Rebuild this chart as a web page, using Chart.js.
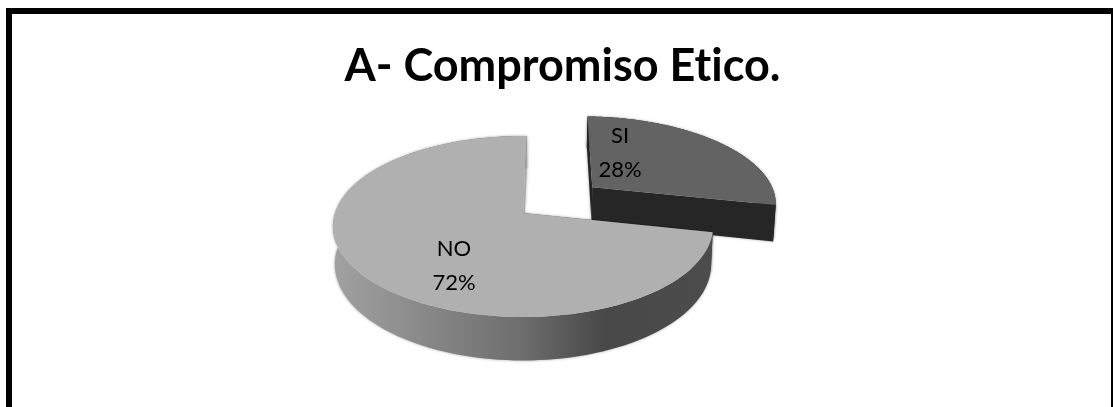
<!DOCTYPE html>
<html>
<head>
<meta charset="utf-8">
<title>A- Compromiso Etico.</title>
<script src="https://cdn.jsdelivr.net/npm/chart.js@4"></script>
<style>
  html, body { margin: 0; padding: 0; background: #fff; overflow: hidden; }
  #frame { position: absolute; left: 6px; top: 8px; width: 1099px; height: 500px; border: 6px solid #000; }
  #pieChart { position: absolute; left: 0; top: 0; }
</style>
</head>
<body>
<div id="frame"></div>
<canvas id="pieChart" width="1113" height="407"></canvas>
<script>
const categories = ['SI', 'NO'];
const percentages = [28, 72];
const titleText = 'A- Compromiso Etico.';

// tilted view of the pie plane
const view = { x: 523, y: 213, a: 188, b: 88.5, k: 0.149, depth: 37, lowerScale: 0.99 };
const explode = [0.49, 0];
const topColors = ['#636363', '#b0b0b0'];
const labelSpots = [{ x: 620, y: 153 }, { x: 454, y: 266 }];

// u, v are in units of the pie radius, v grows towards the viewer
const project = (u, v, lower) => {
  const w = 1 - view.k * v;
  const s = lower ? view.lowerScale : 1;
  return {
    x: view.x + (view.a * u * s) / w,
    y: view.y + (view.b * v + (lower ? view.depth : 0)) / w
  };
};

const tracePolygon = (ctx, pts) => {
  ctx.beginPath();
  pts.forEach((p, i) => (i ? ctx.lineTo(p.x, p.y) : ctx.moveTo(p.x, p.y)));
  ctx.closePath();
};

const arcPoints = (arc, ox, oy, lower) => {
  const pts = [];
  const steps = 120;
  for (let i = 0; i <= steps; i++) {
    const t = arc.startAngle + ((arc.endAngle - arc.startAngle) * i) / steps;
    pts.push(project(ox + Math.cos(t), oy + Math.sin(t), lower));
  }
  return pts;
};

const wallGradient = (ctx) => {
  const g = ctx.createLinearGradient(331, 0, 710, 0);
  g.addColorStop(0, '#a2a2a2');
  g.addColorStop(0.5, '#6e6e6e');
  g.addColorStop(0.72, '#484848');
  g.addColorStop(1, '#4c4c4c');
  return g;
};

const drawSlice = (ctx, arc, index) => {
  const mid = (arc.startAngle + arc.endAngle) / 2;
  const ox = explode[index] * Math.cos(mid);
  const oy = explode[index] * Math.sin(mid);
  const top = arcPoints(arc, ox, oy, false);
  const low = arcPoints(arc, ox, oy, true);
  const hubTop = project(ox, oy, false);
  const hubLow = project(ox, oy, true);
  const sideColor = index === 0 ? '#262626' : wallGradient(ctx);
  const last = top.length - 1;

  ctx.save();
  ctx.shadowColor = 'rgba(0,0,0,0.35)';
  ctx.shadowBlur = 3;
  ctx.fillStyle = sideColor;
  tracePolygon(ctx, [hubTop, top[0], low[0], hubLow]);
  ctx.fill();
  // outer wall, then the far cut face over its end
  tracePolygon(ctx, top.concat(low.slice().reverse()));
  ctx.fill();
  ctx.fillStyle = index === 0 ? '#262626' : '#a8a8a8';
  tracePolygon(ctx, [hubTop, top[last], low[last], hubLow]);
  ctx.fill();
  ctx.restore();

  ctx.fillStyle = topColors[index];
  tracePolygon(ctx, [hubTop].concat(top));
  ctx.fill();
};

const tiltedPie = {
  id: 'tiltedPie',
  beforeDraw(chart) {
    chart.ctx.textRendering = 'optimizeSpeed';
  },
  beforeDatasetDraw(chart) {
    const { ctx } = chart;
    chart.getDatasetMeta(0).data.forEach((arc, i) => drawSlice(ctx, arc, i));
    return false;
  },
  afterDraw(chart) {
    const { ctx } = chart;
    ctx.save();
    ctx.fillStyle = '#000';
    ctx.font = '22px Lato';
    ctx.textAlign = 'center';
    ctx.textBaseline = 'middle';
    categories.forEach((name, i) => {
      ctx.fillText(name, labelSpots[i].x, labelSpots[i].y - 17);
      ctx.fillText(percentages[i] + '%', labelSpots[i].x, labelSpots[i].y + 17);
    });
    ctx.restore();
  }
};

new Chart(document.getElementById('pieChart'), {
  type: 'pie',
  data: {
    labels: categories,
    datasets: [{ data: percentages, backgroundColor: topColors, borderWidth: 0 }]
  },
  options: {
    responsive: false,
    animation: false,
    rotation: 1.4,
    layout: { padding: { left: 12, top: 39 } },
    plugins: {
      legend: { display: false },
      tooltip: { enabled: false },
      title: {
        display: true,
        text: titleText,
        color: '#000',
        font: { family: 'Lato', size: 45, weight: 'bold' },
        padding: 0
      }
    }
  },
  plugins: [tiltedPie]
});
</script>
</body>
</html>
